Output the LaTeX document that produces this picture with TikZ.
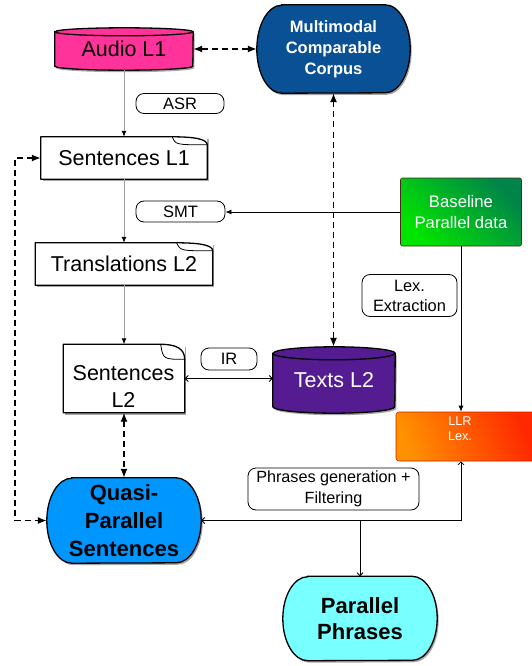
\documentclass[tikz,border=0pt]{standalone}
\usepackage{fontspec}
\setmainfont{Liberation Sans}
\usetikzlibrary{arrows.meta,shadows,backgrounds,calc}
\definecolor{pinkc}{HTML}{FF3399}
\definecolor{mccblue}{HTML}{0A5094}
\definecolor{purp}{HTML}{541C90}
\definecolor{qblue}{HTML}{0096FF}
\definecolor{cyanc}{HTML}{78FFFF}
\definecolor{gTop}{HTML}{00E400}
\definecolor{gBot}{HTML}{00844A}
\definecolor{oL}{HTML}{FF9000}
\definecolor{oR}{HTML}{FF2800}
\definecolor{grayline}{HTML}{A0A0A0}
\newcommand\cylshape[4]{% node, rx, ry, colour
  \path[fill=#4, draw=black, line width=1.3pt, shad]
    ([yshift=-#3]#1.north west) -- ([yshift=#3]#1.south west)
    arc[start angle=180, end angle=360, x radius=#2, y radius=#3]
    -- ([yshift=-#3]#1.north east)
    arc[start angle=0, end angle=180, x radius=#2, y radius=#3] -- cycle;
  \draw[line width=1.3pt] ([yshift=-#3]#1.north west)
    arc[start angle=180, end angle=360, x radius=#2, y radius=#3];
}
\newcommand\stadshape[4]{% node, rx, ry, colour
  \path[fill=#4, draw=black, line width=1.3pt, shad]
    ([xshift=#2]#1.north west) -- ([xshift=-#2]#1.north east)
    arc[start angle=90, end angle=-90, x radius=#2, y radius=#3]
    -- ([xshift=#2]#1.south west)
    arc[start angle=270, end angle=90, x radius=#2, y radius=#3] -- cycle;
}
\newcommand\docoutline[3]{% node, fold width, fold height
  \draw[docline] (#1.south west) -- (#1.north west) -- ([xshift=-#2]#1.north east)
    .. controls ([xshift=-#2*0.35]#1.north east) and ([yshift=-#3*0.3]#1.north east) .. ([yshift=-#3]#1.north east)
    -- (#1.south east) -- cycle;
  \draw[line width=0.8pt] ([xshift=-#2]#1.north east)
    .. controls ([xshift=-#2*0.9, yshift=-#3*1.0]#1.north east) .. ([yshift=-#3]#1.north east);
}
\tikzset{
  shad/.style={drop shadow={shadow xshift=1.5pt, shadow yshift=-2pt, opacity=0.35, fill=black}},
  shapebox/.style={inner sep=0pt, align=center},
  stadtext/.style={shapebox, font=\fontsize{22}{28}\selectfont\bfseries},
  tag/.style={draw=black, line width=0.8pt, rounded corners=8pt, inner sep=0pt, align=center,
    font=\fontsize{16.5}{21}\selectfont},
  docbox/.style={shapebox, fill=white, shad, font=\fontsize{21.5}{27}\selectfont},
  docline/.style={line width=1.3pt, line join=round},
  grayarrow/.style={draw=grayline, line width=1pt, -{Latex[length=6pt,width=5pt,color=black]}},
  dasharrow/.style={line width=1.4pt, dash pattern=on 6pt off 4pt,
    {Latex[length=9pt,width=7pt]}-{Latex[length=9pt,width=7pt]}},
  thinline/.style={line width=0.8pt},
}
\begin{document}
\begin{tikzpicture}[x=1pt, y=-1pt]
\useasboundingbox (0,0) rectangle (531,666);

% nodes
\node[shapebox, minimum width=138pt, minimum height=42pt, font=\fontsize{21.5}{27}\selectfont] (audio) at (124,49) {\raisebox{-3pt}{Audio L1}};
\node[stadtext, text=white, minimum width=153pt, minimum height=88pt,
  font=\fontsize{16.5}{21}\selectfont\bfseries] (mcc) at (333.5,49) {Multimodal\\Comparable\\Corpus};
\node[tag, minimum width=88pt, minimum height=20pt] (asr) at (180,103.5) {ASR};
\node[docbox, minimum width=166pt, minimum height=42pt] (sent1) at (124,158) {Sentences L1};
\node[tag, minimum width=89pt, minimum height=21pt] (smt) at (180.5,211.5) {SMT};
\node[shapebox, minimum width=121pt, minimum height=68pt, draw=gBot!50!red!60!black, line width=0.6pt,
  rounded corners=2pt, top color=gTop, bottom color=gBot, shading angle=135, text=white,
  font=\fontsize{16.7}{21.5}\selectfont] (base) at (461,212) {Baseline\\Parallel data};
\node[docbox, minimum width=177pt, minimum height=42pt] (trans2) at (124,264) {Translations L2};
\node[tag, minimum width=95pt, minimum height=42pt, font=\fontsize{16.4}{20}\selectfont] (lex) at (409.5,295.5) {Lex.\\Extraction};
\node[docbox, minimum width=121pt, minimum height=68pt] (sent2) at (124,378.5) {};
\node[align=center, inner sep=0pt, font=\fontsize{21.5}{27}\selectfont] (sent2txt) at (123.5,386.5) {Sentences\\L2};
\node[tag, minimum width=56pt, minimum height=22pt] (ir) at (229,359) {IR};
\node[shapebox, minimum width=122pt, minimum height=66pt, text=white, font=\fontsize{21.5}{27}\selectfont] (texts2) at (334,380) {\raisebox{-2pt}{Texts L2}};
\node[shapebox, minimum width=140pt, minimum height=49pt, draw=oR!80!black, line width=0.6pt,
  rounded corners=3pt, left color=oL, right color=oR, shading angle=110] (llr) at (466,436.5) {};
\node[align=center, inner sep=0pt, text=white, font=\fontsize{12.7}{15}\selectfont] (llrtxt) at (460,429) {LLR\\Lex.};
\node[stadtext, minimum width=154pt, minimum height=85pt] (quasi) at (124,520.5) {Quasi-\\Parallel\\Sentences};
\node[tag, minimum width=171pt, minimum height=42pt, font=\fontsize{16.2}{21.5}\selectfont] (phr) at (333.5,489) {Phrases generation +\\Filtering};
\node[stadtext, minimum width=154pt, minimum height=84pt, font=\fontsize{22}{26.7}\selectfont\bfseries] (pp) at (360,618.5) {Parallel\\Phrases};

% shapes behind text
\begin{scope}[on background layer]
  \fill[white] (0,0) rectangle (531,666);
  \cylshape{audio}{69pt}{4pt}{pinkc}
  \cylshape{texts2}{61pt}{6.5pt}{purp}
  \stadshape{mcc}{25pt}{44pt}{mccblue}
  \stadshape{quasi}{25pt}{42.5pt}{qblue}
  \stadshape{pp}{25pt}{42pt}{cyanc}
\end{scope}
\docoutline{sent1}{35pt}{8pt}
\docoutline{trans2}{36pt}{8pt}
\docoutline{sent2}{24pt}{15pt}

% connectors
\draw[dasharrow] (audio.east) -- (mcc.west);
\draw[dasharrow] (mcc.south) -- (mcc.south |- texts2.north);
\draw[grayarrow] (audio.south) -- (sent1.north);
\draw[grayarrow] (sent1.south) -- (trans2.north);
\draw[grayarrow] (trans2.south) -- (sent2.north);
\draw[dasharrow] (sent2.south) -- (quasi.north);
\draw[dasharrow] (sent1.west) -- ++(-26,0) |- (quasi.west);
\draw[thinline, -{Latex[length=6pt,width=5pt]}] (base.west) -- (base.west -| smt.east);
\draw[thinline, -{Latex[length=6pt,width=5pt]}] (base.south) -- (base.south |- llr.north);
\draw[thinline, {Straight Barb[length=3pt,width=6pt]}-{Straight Barb[length=3pt,width=6pt]}]
  (sent2.east) -- (sent2.east -| texts2.west);
\draw[thinline, {Straight Barb[length=3pt,width=6pt]}-{Straight Barb[length=3pt,width=6pt]}]
  (quasi.east) -- (quasi.east -| base.south) -- (base.south |- llr.south);
\coordinate (split) at (pp.north |- quasi.east);
\draw[thinline, -{Straight Barb[length=3pt,width=6pt]}] (split) -- (pp.north);
\end{tikzpicture}
\end{document}
